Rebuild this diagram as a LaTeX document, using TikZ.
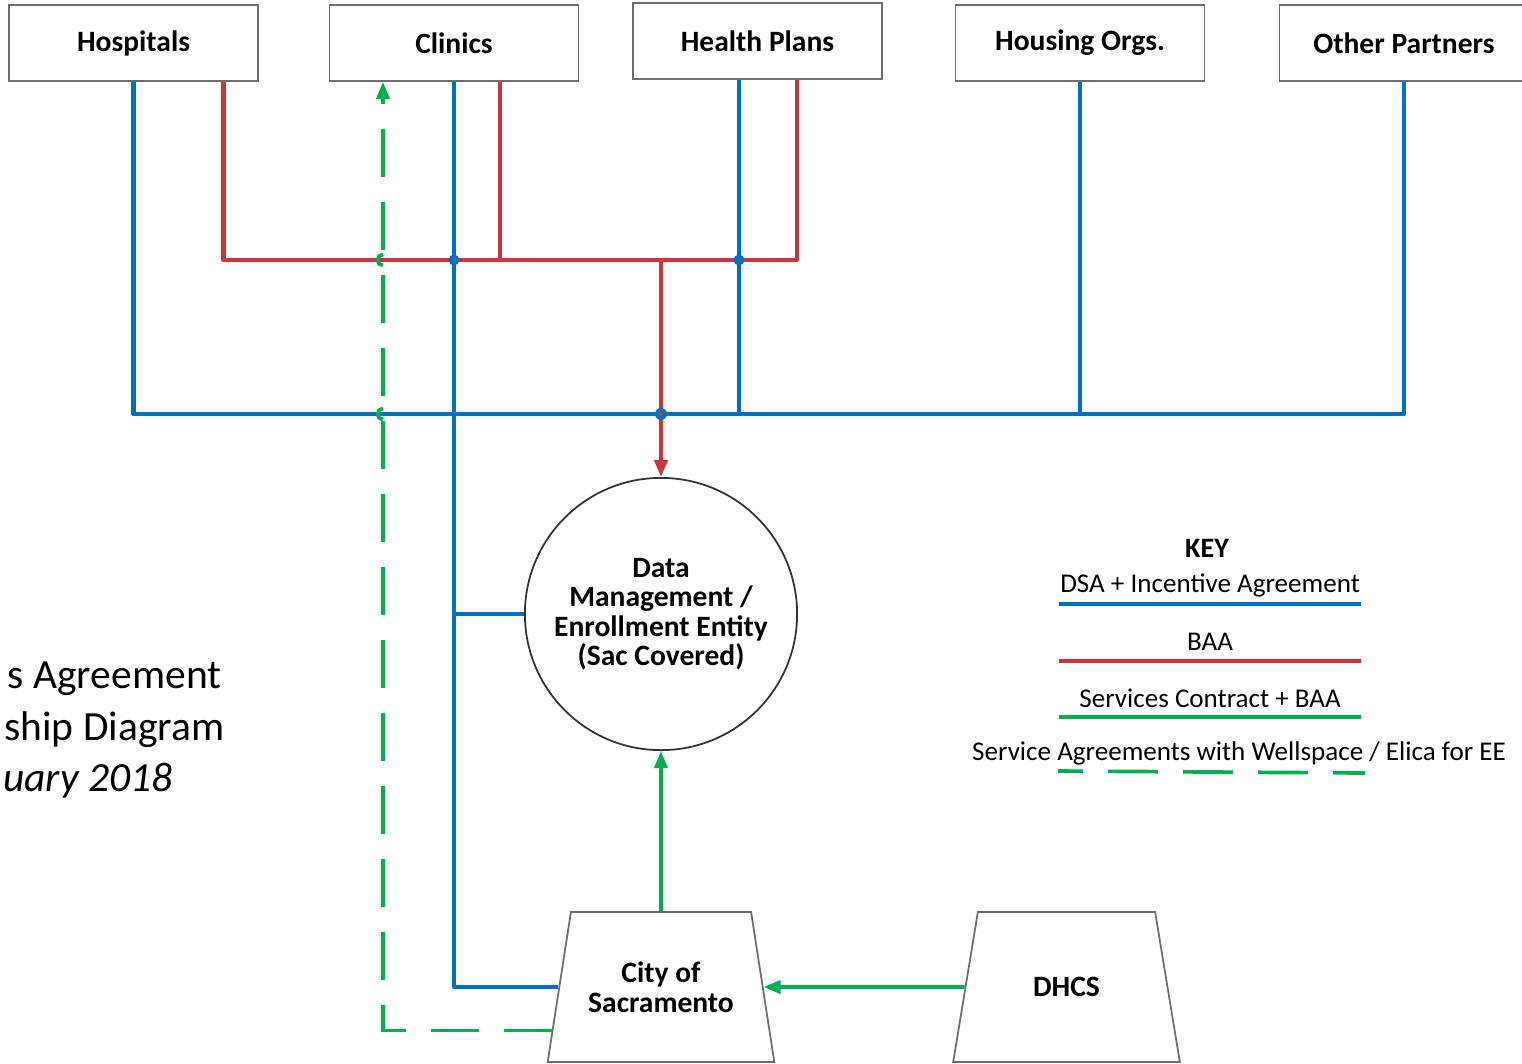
\documentclass[tikz,border=0pt]{standalone}
\usepackage{fontspec}
\setmainfont{Carlito}
\usetikzlibrary{shapes.geometric,arrows.meta,calc}
\definecolor{dsablue}{RGB}{0,112,192}
\definecolor{baared}{RGB}{207,51,62}
\definecolor{svcgreen}{RGB}{0,176,80}
\definecolor{boxgray}{RGB}{110,110,110}
\tikzset{
  org/.style={draw=boxgray, line width=0.5pt, fill=white, minimum width=2.49cm, minimum height=0.76cm, font=\bfseries\fontsize{8.4}{8.4}\selectfont},
  agency/.style={trapezium, trapezium left angle=73.7, trapezium right angle=73.7, trapezium stretches=true, draw=boxgray, line width=0.5pt, minimum width=2.27cm, minimum height=1.5cm, align=center, font=\bfseries\fontsize{8.4}{8.6}\selectfont},
  dsa/.style={draw=dsablue, line width=1.15pt, line join=round},
  baa/.style={draw=baared, line width=1.15pt, line join=round},
  svc/.style={draw=svcgreen, line width=1.05pt},
  ee/.style={draw=svcgreen, line width=1.05pt, dash pattern=on 0.48cm off 0.25cm},
  tip/.style={-{Triangle[length=0.17cm, width=0.13cm]}},
  keytxt/.style={inner sep=0pt, font=\fontsize{7.7}{7.7}\selectfont},
  title/.style={inner sep=0pt, anchor=base east, font=\fontsize{11.8}{11.8}\selectfont}
}
\begin{document}
\begin{tikzpicture}[x=0.01cm, y=-0.01cm]
    \useasboundingbox (0,0) rectangle (1522,1063);
    % partner boxes
    \node[org] (hosp) at (133.5,43) {Hospitals};
    \node[org] (clin) at (454,43) {Clinics};
    \node[org] (hplan) at (757.5,41) {Health Plans};
    \node[org] (hous) at (1080,43) {Housing Orgs.};
    \node[org] (part) at (1404,43) {Other Partners};
    % entities
    \node[circle, draw=black!80, line width=0.5pt, minimum size=2.66cm, align=center, font=\bfseries\fontsize{8.4}{8.4}\selectfont] (dme) at (661,614) {Data\\Management /\\Enrollment Entity\\(Sac Covered)};
    \node[agency] (city) at (661,987) {City of\\Sacramento};
    \node[agency] (dhcs) at (1066.5,987) {DHCS};
    % title (cut at the left edge)
    \node[title] (t1) at (222,688) {s Agreement};
    \node[title] (t2) at (225,740) {ship Diagram};
    \node[title, font=\itshape\fontsize{11.8}{11.8}\selectfont] (t3) at (173,791) {uary 2018};

    \coordinate (redhub) at (661,260);
    \coordinate (bluehub) at (661,414);
    \coordinate (hpdsa) at ($(hplan.south)+(-18.5,0)$);
    \coordinate (eetop) at ($(clin.south)+(-71,0)$);
    \coordinate (cityee) at ($(city.west)!0.573!(city.bottom left corner)$);

    % DSA + incentive agreement
    \draw[dsa] (hosp.south) |- (bluehub) -| (part.south);
    \draw[dsa] (hpdsa) -- (hpdsa |- bluehub);
    \draw[dsa] (hous.south) -- (hous.south |- bluehub);
    \draw[dsa] (clin.south) |- (city.west);
    \draw[dsa] (clin.south |- dme.west) -- (dme.west);
    % BAA
    \draw[baa] ($(hosp.south)+(90,0)$) |- (redhub) -| ($(hplan.south)+(39.5,0)$);
    \draw[baa] ($(clin.south)+(46,0)$) -- ++(0,179);
    \draw[baa, tip] (redhub) -- (dme.north);
    % junctions
    \fill[dsablue] (clin.south |- redhub) circle[radius=0.055cm];
    \fill[dsablue] (hpdsa |- redhub) circle[radius=0.055cm];
    \fill[dsablue] (bluehub) circle[radius=0.06cm];
    \fill[baared] (bluehub) circle[radius=0.02cm];
    % services contract
    \draw[svc, tip] (city.north) -- (dme.south);
    \draw[svc, tip] (dhcs.west) -- (city.east);
    \draw[ee, tip] (cityee) -| (eetop);
    \draw[svc] ([yshift=-0.055cm]eetop |- redhub) arc[start angle=270, end angle=90, radius=0.055cm];
    \draw[svc] ([yshift=-0.055cm]eetop |- bluehub) arc[start angle=270, end angle=90, radius=0.055cm];

    % key
    \node[keytxt, font=\bfseries\fontsize{8}{8}\selectfont] (key) at (1207,548) {KEY};
    \node[keytxt] (kdsa) at (1210,585) {DSA + Incentive Agreement};
    \draw[dsa] (1059,604) -- (1361,604);
    \node[keytxt] (kbaa) at (1210,642) {BAA};
    \draw[baa] (1059,661) -- (1361,661);
    \node[keytxt] (ksvc) at (1210,698) {Services Contract + BAA};
    \draw[svc] (1059,717) -- (1361,717);
    \node[keytxt] (kee) at (1239,753) {Service Agreements with Wellspace / Elica for EE};
    \draw[ee, dash pattern=on 0.5cm off 0.25cm, dash phase=0.25cm] (1058,771) -- (1365,773);
\end{tikzpicture}
\end{document}
